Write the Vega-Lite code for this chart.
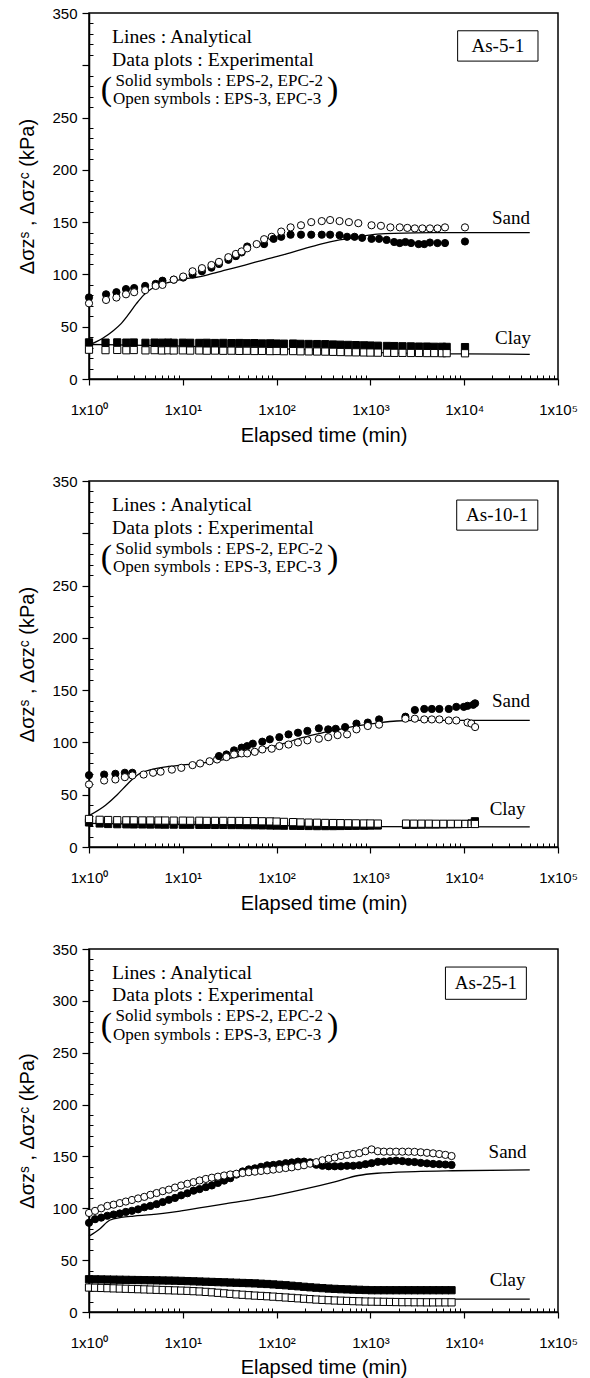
{
  "$schema": "https://vega.github.io/schema/vega-lite/v6.json",
  "background": "white",
  "padding": {"top": 5, "left": 17, "right": 5, "bottom": 0},
  "spacing": 27,
  "config": {
    "view": {"stroke": "black", "strokeWidth": 1.5},
    "axis": {
      "domainColor": "black", "domainWidth": 1.5, "tickColor": "black", "tickWidth": 1.2,
      "labelColor": "black", "titleColor": "black", "labelFont": "Liberation Sans", "titleFont": "Liberation Sans",
      "labelFontSize": 15, "titleFontSize": 20, "titleFontWeight": "normal", "grid": false
    },
    "text": {"font": "Liberation Serif", "color": "black"}
  },
  "datasets": {
    "curves": [
      {"panel": "As-5-1", "soil": "Sand", "time": 1, "stress": 32.5},
      {"panel": "As-5-1", "soil": "Sand", "time": 1.4, "stress": 39},
      {"panel": "As-5-1", "soil": "Sand", "time": 1.8, "stress": 46},
      {"panel": "As-5-1", "soil": "Sand", "time": 2.2, "stress": 53},
      {"panel": "As-5-1", "soil": "Sand", "time": 2.6, "stress": 61},
      {"panel": "As-5-1", "soil": "Sand", "time": 3.2, "stress": 72},
      {"panel": "As-5-1", "soil": "Sand", "time": 3.8, "stress": 80},
      {"panel": "As-5-1", "soil": "Sand", "time": 4.6, "stress": 86},
      {"panel": "As-5-1", "soil": "Sand", "time": 6, "stress": 90.5},
      {"panel": "As-5-1", "soil": "Sand", "time": 8, "stress": 93.5},
      {"panel": "As-5-1", "soil": "Sand", "time": 10, "stress": 95.5},
      {"panel": "As-5-1", "soil": "Sand", "time": 14, "stress": 97.3},
      {"panel": "As-5-1", "soil": "Sand", "time": 20, "stress": 100.5},
      {"panel": "As-5-1", "soil": "Sand", "time": 29, "stress": 104.3},
      {"panel": "As-5-1", "soil": "Sand", "time": 46, "stress": 109},
      {"panel": "As-5-1", "soil": "Sand", "time": 74, "stress": 114},
      {"panel": "As-5-1", "soil": "Sand", "time": 117, "stress": 118.7},
      {"panel": "As-5-1", "soil": "Sand", "time": 186, "stress": 124},
      {"panel": "As-5-1", "soil": "Sand", "time": 295, "stress": 129},
      {"panel": "As-5-1", "soil": "Sand", "time": 469, "stress": 133},
      {"panel": "As-5-1", "soil": "Sand", "time": 743, "stress": 136},
      {"panel": "As-5-1", "soil": "Sand", "time": 1180, "stress": 138.5},
      {"panel": "As-5-1", "soil": "Sand", "time": 3000, "stress": 139.8},
      {"panel": "As-5-1", "soil": "Sand", "time": 7500, "stress": 140},
      {"panel": "As-5-1", "soil": "Sand", "time": 50000, "stress": 140},
      {"panel": "As-5-1", "soil": "Clay", "time": 1, "stress": 33},
      {"panel": "As-5-1", "soil": "Clay", "time": 10, "stress": 31.5},
      {"panel": "As-5-1", "soil": "Clay", "time": 100, "stress": 29},
      {"panel": "As-5-1", "soil": "Clay", "time": 1000, "stress": 25.5},
      {"panel": "As-5-1", "soil": "Clay", "time": 10000, "stress": 24},
      {"panel": "As-5-1", "soil": "Clay", "time": 50000, "stress": 23.6},
      {"panel": "As-10-1", "soil": "Sand", "time": 1, "stress": 30},
      {"panel": "As-10-1", "soil": "Sand", "time": 1.5, "stress": 40},
      {"panel": "As-10-1", "soil": "Sand", "time": 2, "stress": 50},
      {"panel": "As-10-1", "soil": "Sand", "time": 2.5, "stress": 59},
      {"panel": "As-10-1", "soil": "Sand", "time": 3, "stress": 66},
      {"panel": "As-10-1", "soil": "Sand", "time": 3.5, "stress": 70.5},
      {"panel": "As-10-1", "soil": "Sand", "time": 4.6, "stress": 74},
      {"panel": "As-10-1", "soil": "Sand", "time": 7, "stress": 77},
      {"panel": "As-10-1", "soil": "Sand", "time": 10, "stress": 78.5},
      {"panel": "As-10-1", "soil": "Sand", "time": 15, "stress": 80},
      {"panel": "As-10-1", "soil": "Sand", "time": 20, "stress": 81.5},
      {"panel": "As-10-1", "soil": "Sand", "time": 29, "stress": 84},
      {"panel": "As-10-1", "soil": "Sand", "time": 46, "stress": 88},
      {"panel": "As-10-1", "soil": "Sand", "time": 74, "stress": 94},
      {"panel": "As-10-1", "soil": "Sand", "time": 120, "stress": 99},
      {"panel": "As-10-1", "soil": "Sand", "time": 186, "stress": 104.5},
      {"panel": "As-10-1", "soil": "Sand", "time": 300, "stress": 109},
      {"panel": "As-10-1", "soil": "Sand", "time": 469, "stress": 112.5},
      {"panel": "As-10-1", "soil": "Sand", "time": 750, "stress": 116},
      {"panel": "As-10-1", "soil": "Sand", "time": 1180, "stress": 118.5},
      {"panel": "As-10-1", "soil": "Sand", "time": 1900, "stress": 120.5},
      {"panel": "As-10-1", "soil": "Sand", "time": 3000, "stress": 121},
      {"panel": "As-10-1", "soil": "Sand", "time": 50000, "stress": 121},
      {"panel": "As-10-1", "soil": "Clay", "time": 1, "stress": 22.5},
      {"panel": "As-10-1", "soil": "Clay", "time": 10, "stress": 21.5},
      {"panel": "As-10-1", "soil": "Clay", "time": 100, "stress": 20.5},
      {"panel": "As-10-1", "soil": "Clay", "time": 1000, "stress": 19.5},
      {"panel": "As-10-1", "soil": "Clay", "time": 50000, "stress": 19.2},
      {"panel": "As-25-1", "soil": "Sand", "time": 1, "stress": 73},
      {"panel": "As-25-1", "soil": "Sand", "time": 1.3, "stress": 80},
      {"panel": "As-25-1", "soil": "Sand", "time": 1.66, "stress": 88.5},
      {"panel": "As-25-1", "soil": "Sand", "time": 2.2, "stress": 91.2},
      {"panel": "As-25-1", "soil": "Sand", "time": 3, "stress": 92.5},
      {"panel": "As-25-1", "soil": "Sand", "time": 4.6, "stress": 93.8},
      {"panel": "As-25-1", "soil": "Sand", "time": 9.6, "stress": 97.5},
      {"panel": "As-25-1", "soil": "Sand", "time": 18.4, "stress": 101.5},
      {"panel": "As-25-1", "soil": "Sand", "time": 29, "stress": 104.5},
      {"panel": "As-25-1", "soil": "Sand", "time": 74, "stress": 110.5},
      {"panel": "As-25-1", "soil": "Sand", "time": 186, "stress": 118},
      {"panel": "As-25-1", "soil": "Sand", "time": 427, "stress": 125.8},
      {"panel": "As-25-1", "soil": "Sand", "time": 743, "stress": 131.6},
      {"panel": "As-25-1", "soil": "Sand", "time": 1180, "stress": 133.8},
      {"panel": "As-25-1", "soil": "Sand", "time": 3000, "stress": 135.4},
      {"panel": "As-25-1", "soil": "Sand", "time": 7500, "stress": 136.2},
      {"panel": "As-25-1", "soil": "Sand", "time": 50000, "stress": 137},
      {"panel": "As-25-1", "soil": "Clay", "time": 1, "stress": 25},
      {"panel": "As-25-1", "soil": "Clay", "time": 3, "stress": 23.5},
      {"panel": "As-25-1", "soil": "Clay", "time": 11.6, "stress": 20.4},
      {"panel": "As-25-1", "soil": "Clay", "time": 30, "stress": 18.5},
      {"panel": "As-25-1", "soil": "Clay", "time": 74, "stress": 16.3},
      {"panel": "As-25-1", "soil": "Clay", "time": 200, "stress": 14.5},
      {"panel": "As-25-1", "soil": "Clay", "time": 469, "stress": 13.1},
      {"panel": "As-25-1", "soil": "Clay", "time": 1000, "stress": 12.6},
      {"panel": "As-25-1", "soil": "Clay", "time": 3000, "stress": 12.5},
      {"panel": "As-25-1", "soil": "Clay", "time": 50000, "stress": 12.5}
    ],
    "gauges": [
      {"panel": "As-5-1", "time": 1, "EPS-2": 78, "EPS-3": 72.4},
      {"panel": "As-5-1", "time": 1.52, "EPS-2": 81, "EPS-3": 75.6},
      {"panel": "As-5-1", "time": 1.96, "EPS-2": 83, "EPS-3": 77.9},
      {"panel": "As-5-1", "time": 2.48, "EPS-2": 86, "EPS-3": 81},
      {"panel": "As-5-1", "time": 3.03, "EPS-2": 87, "EPS-3": 83},
      {"panel": "As-5-1", "time": 3.97, "EPS-2": 89, "EPS-3": 85},
      {"panel": "As-5-1", "time": 5.14, "EPS-2": 91, "EPS-3": 89},
      {"panel": "As-5-1", "time": 6.07, "EPS-2": 94, "EPS-3": 90},
      {"panel": "As-5-1", "time": 8.01, "EPS-2": 95, "EPS-3": 95},
      {"panel": "As-5-1", "time": 10.1, "EPS-2": 97, "EPS-3": 98},
      {"panel": "As-5-1", "time": 12.7, "EPS-2": 100, "EPS-3": 103},
      {"panel": "As-5-1", "time": 16.0, "EPS-2": 103, "EPS-3": 106},
      {"panel": "As-5-1", "time": 20.2, "EPS-2": 106.5, "EPS-3": 109},
      {"panel": "As-5-1", "time": 24.3, "EPS-2": 110, "EPS-3": 112},
      {"panel": "As-5-1", "time": 30.6, "EPS-2": 114, "EPS-3": 116.5},
      {"panel": "As-5-1", "time": 36.8, "EPS-2": 117.5, "EPS-3": 119.6},
      {"panel": "As-5-1", "time": 42.4, "EPS-2": 121, "EPS-3": 122},
      {"panel": "As-5-1", "time": 48.6, "EPS-2": 126.7, "EPS-3": 125},
      {"panel": "As-5-1", "time": 61.3, "EPS-3": 129},
      {"panel": "As-5-1", "time": 73.6, "EPS-2": 129, "EPS-3": 133.7},
      {"panel": "As-5-1", "time": 88.7, "EPS-3": 136},
      {"panel": "As-5-1", "time": 92.9, "EPS-2": 134},
      {"panel": "As-5-1", "time": 112, "EPS-2": 136, "EPS-3": 141},
      {"panel": "As-5-1", "time": 141, "EPS-2": 138, "EPS-3": 145},
      {"panel": "As-5-1", "time": 182, "EPS-2": 138, "EPS-3": 147},
      {"panel": "As-5-1", "time": 234, "EPS-2": 138, "EPS-3": 150},
      {"panel": "As-5-1", "time": 303, "EPS-2": 138, "EPS-3": 151},
      {"panel": "As-5-1", "time": 372, "EPS-2": 138, "EPS-3": 152},
      {"panel": "As-5-1", "time": 469, "EPS-2": 137.5, "EPS-3": 151},
      {"panel": "As-5-1", "time": 564, "EPS-2": 136},
      {"panel": "As-5-1", "time": 590, "EPS-3": 150},
      {"panel": "As-5-1", "time": 678, "EPS-2": 136},
      {"panel": "As-5-1", "time": 743, "EPS-3": 149},
      {"panel": "As-5-1", "time": 816, "EPS-2": 135},
      {"panel": "As-5-1", "time": 1028, "EPS-2": 134, "EPS-3": 147},
      {"panel": "As-5-1", "time": 1237, "EPS-2": 134},
      {"panel": "As-5-1", "time": 1295, "EPS-3": 146.5},
      {"panel": "As-5-1", "time": 1489, "EPS-2": 133},
      {"panel": "As-5-1", "time": 1633, "EPS-3": 145},
      {"panel": "As-5-1", "time": 1791, "EPS-2": 131},
      {"panel": "As-5-1", "time": 2056, "EPS-2": 130, "EPS-3": 145},
      {"panel": "As-5-1", "time": 2362, "EPS-2": 131},
      {"panel": "As-5-1", "time": 2475, "EPS-3": 144.5},
      {"panel": "As-5-1", "time": 2715, "EPS-2": 130},
      {"panel": "As-5-1", "time": 2977, "EPS-3": 144},
      {"panel": "As-5-1", "time": 3266, "EPS-2": 129},
      {"panel": "As-5-1", "time": 3582, "EPS-3": 144},
      {"panel": "As-5-1", "time": 3752, "EPS-2": 129},
      {"panel": "As-5-1", "time": 4313, "EPS-2": 130.5, "EPS-3": 144},
      {"panel": "As-5-1", "time": 5189, "EPS-2": 130, "EPS-3": 144},
      {"panel": "As-5-1", "time": 6241, "EPS-2": 130, "EPS-3": 145},
      {"panel": "As-5-1", "time": 10190, "EPS-2": 131.5, "EPS-3": 145},
      {"panel": "As-5-1", "time": 1, "EPC-2": 35, "EPC-3": 28},
      {"panel": "As-5-1", "time": 1.5, "EPC-2": 34.8, "EPC-3": 27.6},
      {"panel": "As-5-1", "time": 2, "EPC-2": 35, "EPC-3": 27.8},
      {"panel": "As-5-1", "time": 2.5, "EPC-2": 34.8, "EPC-3": 27.5},
      {"panel": "As-5-1", "time": 3, "EPC-2": 34.9, "EPC-3": 27.7},
      {"panel": "As-5-1", "time": 4, "EPC-2": 34.6, "EPC-3": 27.4},
      {"panel": "As-5-1", "time": 5, "EPC-2": 34.8, "EPC-3": 27.6},
      {"panel": "As-5-1", "time": 6, "EPC-2": 34.7, "EPC-3": 27.3},
      {"panel": "As-5-1", "time": 7, "EPC-2": 34.8, "EPC-3": 27.5},
      {"panel": "As-5-1", "time": 8, "EPC-2": 34.6, "EPC-3": 27.3},
      {"panel": "As-5-1", "time": 10, "EPC-2": 34.7, "EPC-3": 27.4},
      {"panel": "As-5-1", "time": 12, "EPC-2": 34.6, "EPC-3": 27.2},
      {"panel": "As-5-1", "time": 15, "EPC-2": 34.5, "EPC-3": 27.3},
      {"panel": "As-5-1", "time": 18, "EPC-2": 34.6, "EPC-3": 27.1},
      {"panel": "As-5-1", "time": 22, "EPC-2": 34.4, "EPC-3": 27.2},
      {"panel": "As-5-1", "time": 27, "EPC-2": 34.5, "EPC-3": 27},
      {"panel": "As-5-1", "time": 33, "EPC-2": 34.3, "EPC-3": 27.1},
      {"panel": "As-5-1", "time": 40, "EPC-2": 34.4, "EPC-3": 26.9},
      {"panel": "As-5-1", "time": 48, "EPC-2": 34.2, "EPC-3": 27},
      {"panel": "As-5-1", "time": 58, "EPC-2": 34.3, "EPC-3": 26.8},
      {"panel": "As-5-1", "time": 70, "EPC-2": 34, "EPC-3": 26.9},
      {"panel": "As-5-1", "time": 85, "EPC-2": 34.1, "EPC-3": 26.7},
      {"panel": "As-5-1", "time": 100, "EPC-2": 33.9, "EPC-3": 26.8},
      {"panel": "As-5-1", "time": 120, "EPC-2": 33.8, "EPC-3": 26.6},
      {"panel": "As-5-1", "time": 150, "EPC-2": 33.9, "EPC-3": 26.7},
      {"panel": "As-5-1", "time": 180, "EPC-2": 33.6, "EPC-3": 26.5},
      {"panel": "As-5-1", "time": 220, "EPC-2": 33.5, "EPC-3": 26.4},
      {"panel": "As-5-1", "time": 270, "EPC-2": 33.4, "EPC-3": 26.3},
      {"panel": "As-5-1", "time": 330, "EPC-2": 33.3, "EPC-3": 26.2},
      {"panel": "As-5-1", "time": 400, "EPC-2": 33, "EPC-3": 26},
      {"panel": "As-5-1", "time": 480, "EPC-2": 32.8, "EPC-3": 25.8},
      {"panel": "As-5-1", "time": 580, "EPC-2": 32.6, "EPC-3": 25.6},
      {"panel": "As-5-1", "time": 700, "EPC-2": 32.4, "EPC-3": 25.5},
      {"panel": "As-5-1", "time": 850, "EPC-2": 32.2, "EPC-3": 25.4},
      {"panel": "As-5-1", "time": 1000, "EPC-2": 32, "EPC-3": 25.3},
      {"panel": "As-5-1", "time": 1200, "EPC-2": 31.8, "EPC-3": 25.2},
      {"panel": "As-5-1", "time": 1500, "EPC-2": 31.6, "EPC-3": 25.1},
      {"panel": "As-5-1", "time": 1800, "EPC-2": 31.5, "EPC-3": 25},
      {"panel": "As-5-1", "time": 2200, "EPC-2": 31.3, "EPC-3": 25},
      {"panel": "As-5-1", "time": 2700, "EPC-2": 31.2, "EPC-3": 24.9},
      {"panel": "As-5-1", "time": 3300, "EPC-2": 31, "EPC-3": 24.9},
      {"panel": "As-5-1", "time": 4000, "EPC-2": 31, "EPC-3": 24.8},
      {"panel": "As-5-1", "time": 4800, "EPC-2": 30.8, "EPC-3": 24.8},
      {"panel": "As-5-1", "time": 5800, "EPC-2": 30.8, "EPC-3": 24.7},
      {"panel": "As-5-1", "time": 6500, "EPC-2": 30.7, "EPC-3": 24.7},
      {"panel": "As-5-1", "time": 10200, "EPC-2": 30.5, "EPC-3": 24.6},
      {"panel": "As-10-1", "time": 1, "EPS-2": 68.7, "EPS-3": 59.8},
      {"panel": "As-10-1", "time": 1.45, "EPS-2": 69.3, "EPS-3": 63.6},
      {"panel": "As-10-1", "time": 1.91, "EPS-2": 70, "EPS-3": 64.6},
      {"panel": "As-10-1", "time": 2.41, "EPS-2": 71, "EPS-3": 66.8},
      {"panel": "As-10-1", "time": 2.9, "EPS-2": 71, "EPS-3": 68.4},
      {"panel": "As-10-1", "time": 3.82, "EPS-3": 69.3},
      {"panel": "As-10-1", "time": 4.82, "EPS-3": 71},
      {"panel": "As-10-1", "time": 5.8, "EPS-3": 72},
      {"panel": "As-10-1", "time": 7.65, "EPS-3": 74},
      {"panel": "As-10-1", "time": 9.64, "EPS-3": 75.7},
      {"panel": "As-10-1", "time": 12.7, "EPS-3": 78.3},
      {"panel": "As-10-1", "time": 15.3, "EPS-3": 79.9},
      {"panel": "As-10-1", "time": 19.3, "EPS-3": 82},
      {"panel": "As-10-1", "time": 23.2, "EPS-3": 83.7},
      {"panel": "As-10-1", "time": 24.3, "EPS-2": 87},
      {"panel": "As-10-1", "time": 29.2, "EPS-2": 88.5, "EPS-3": 86},
      {"panel": "As-10-1", "time": 35.2, "EPS-2": 92.4, "EPS-3": 88.5},
      {"panel": "As-10-1", "time": 42.4, "EPS-2": 95, "EPS-3": 89.5},
      {"panel": "As-10-1", "time": 48.6, "EPS-2": 96.5, "EPS-3": 89.5},
      {"panel": "As-10-1", "time": 55.8, "EPS-2": 98.8},
      {"panel": "As-10-1", "time": 58.5, "EPS-3": 91},
      {"panel": "As-10-1", "time": 70.4, "EPS-2": 100.7, "EPS-3": 93.3},
      {"panel": "As-10-1", "time": 84.7, "EPS-2": 103},
      {"panel": "As-10-1", "time": 88.7, "EPS-3": 94},
      {"panel": "As-10-1", "time": 107, "EPS-2": 105, "EPS-3": 96.5},
      {"panel": "As-10-1", "time": 134, "EPS-2": 107.7, "EPS-3": 98},
      {"panel": "As-10-1", "time": 169, "EPS-2": 109.3, "EPS-3": 100},
      {"panel": "As-10-1", "time": 213, "EPS-2": 111, "EPS-3": 102},
      {"panel": "As-10-1", "time": 282, "EPS-2": 113.5, "EPS-3": 103.5},
      {"panel": "As-10-1", "time": 355, "EPS-2": 112.5, "EPS-3": 105},
      {"panel": "As-10-1", "time": 427, "EPS-2": 113},
      {"panel": "As-10-1", "time": 447, "EPS-3": 107},
      {"panel": "As-10-1", "time": 538, "EPS-2": 114.7},
      {"panel": "As-10-1", "time": 564, "EPS-3": 107.7},
      {"panel": "As-10-1", "time": 710, "EPS-2": 118, "EPS-3": 112.5},
      {"panel": "As-10-1", "time": 938, "EPS-2": 119, "EPS-3": 115.7},
      {"panel": "As-10-1", "time": 1237, "EPS-2": 122, "EPS-3": 117},
      {"panel": "As-10-1", "time": 2362, "EPS-2": 124.6, "EPS-3": 122.7},
      {"panel": "As-10-1", "time": 2977, "EPS-2": 131, "EPS-3": 122.7},
      {"panel": "As-10-1", "time": 3752, "EPS-2": 132, "EPS-3": 122},
      {"panel": "As-10-1", "time": 4518, "EPS-2": 132, "EPS-3": 122},
      {"panel": "As-10-1", "time": 5435, "EPS-2": 132, "EPS-3": 122},
      {"panel": "As-10-1", "time": 6846, "EPS-2": 132, "EPS-3": 121},
      {"panel": "As-10-1", "time": 8236, "EPS-2": 134, "EPS-3": 121},
      {"panel": "As-10-1", "time": 9908, "EPS-2": 134},
      {"panel": "As-10-1", "time": 10860, "EPS-2": 135, "EPS-3": 119},
      {"panel": "As-10-1", "time": 11920, "EPS-3": 118},
      {"panel": "As-10-1", "time": 12480, "EPS-2": 136},
      {"panel": "As-10-1", "time": 13070, "EPS-2": 137.4, "EPS-3": 114.7},
      {"panel": "As-10-1", "time": 1, "EPC-2": 23.5, "EPC-3": 26.8},
      {"panel": "As-10-1", "time": 1.3, "EPC-2": 22.5, "EPC-3": 26},
      {"panel": "As-10-1", "time": 1.6, "EPC-2": 22, "EPC-3": 25.8},
      {"panel": "As-10-1", "time": 2, "EPC-2": 21.8, "EPC-3": 25.6},
      {"panel": "As-10-1", "time": 2.5, "EPC-2": 21.7, "EPC-3": 25.5},
      {"panel": "As-10-1", "time": 3, "EPC-2": 21.6, "EPC-3": 25.5},
      {"panel": "As-10-1", "time": 3.7, "EPC-2": 21.6, "EPC-3": 25.4},
      {"panel": "As-10-1", "time": 4.5, "EPC-2": 21.5, "EPC-3": 25.4},
      {"panel": "As-10-1", "time": 5.5, "EPC-2": 21.5, "EPC-3": 25.3},
      {"panel": "As-10-1", "time": 6.5, "EPC-2": 21.4, "EPC-3": 25.3},
      {"panel": "As-10-1", "time": 8, "EPC-2": 21.4, "EPC-3": 25.2},
      {"panel": "As-10-1", "time": 10, "EPC-2": 21.3, "EPC-3": 25.2},
      {"panel": "As-10-1", "time": 12, "EPC-2": 21.3, "EPC-3": 25.1},
      {"panel": "As-10-1", "time": 15, "EPC-2": 21.2, "EPC-3": 25.1},
      {"panel": "As-10-1", "time": 18, "EPC-2": 21.2, "EPC-3": 25},
      {"panel": "As-10-1", "time": 22, "EPC-2": 21.1, "EPC-3": 25},
      {"panel": "As-10-1", "time": 27, "EPC-2": 21.1, "EPC-3": 25},
      {"panel": "As-10-1", "time": 33, "EPC-2": 21, "EPC-3": 24.9},
      {"panel": "As-10-1", "time": 40, "EPC-2": 21, "EPC-3": 24.9},
      {"panel": "As-10-1", "time": 48, "EPC-2": 20.9, "EPC-3": 24.8},
      {"panel": "As-10-1", "time": 58, "EPC-2": 20.8, "EPC-3": 24.8},
      {"panel": "As-10-1", "time": 70, "EPC-2": 20.7, "EPC-3": 24.6},
      {"panel": "As-10-1", "time": 85, "EPC-2": 20.6, "EPC-3": 24.5},
      {"panel": "As-10-1", "time": 100, "EPC-2": 20.5, "EPC-3": 24.3},
      {"panel": "As-10-1", "time": 120, "EPC-2": 20.4, "EPC-3": 24},
      {"panel": "As-10-1", "time": 150, "EPC-2": 20.3, "EPC-3": 23.8},
      {"panel": "As-10-1", "time": 180, "EPC-2": 20.2, "EPC-3": 23.5},
      {"panel": "As-10-1", "time": 220, "EPC-2": 20.1, "EPC-3": 23.3},
      {"panel": "As-10-1", "time": 270, "EPC-2": 20, "EPC-3": 23.2},
      {"panel": "As-10-1", "time": 330, "EPC-2": 20, "EPC-3": 23},
      {"panel": "As-10-1", "time": 400, "EPC-2": 20, "EPC-3": 22.9},
      {"panel": "As-10-1", "time": 480, "EPC-2": 20.1, "EPC-3": 22.8},
      {"panel": "As-10-1", "time": 580, "EPC-2": 20.2, "EPC-3": 22.7},
      {"panel": "As-10-1", "time": 700, "EPC-2": 20.3, "EPC-3": 22.6},
      {"panel": "As-10-1", "time": 850, "EPC-2": 20.4, "EPC-3": 22.5},
      {"panel": "As-10-1", "time": 1000, "EPC-2": 20.5, "EPC-3": 22.5},
      {"panel": "As-10-1", "time": 1200, "EPC-2": 20.6, "EPC-3": 22.4},
      {"panel": "As-10-1", "time": 2400, "EPC-2": 21.2, "EPC-3": 22.4},
      {"panel": "As-10-1", "time": 2900, "EPC-2": 21.3, "EPC-3": 22.3},
      {"panel": "As-10-1", "time": 3500, "EPC-2": 21.4, "EPC-3": 22.3},
      {"panel": "As-10-1", "time": 4200, "EPC-2": 21.5, "EPC-3": 22.3},
      {"panel": "As-10-1", "time": 5000, "EPC-2": 21.5, "EPC-3": 22.2},
      {"panel": "As-10-1", "time": 6000, "EPC-2": 21.6, "EPC-3": 22.2},
      {"panel": "As-10-1", "time": 7200, "EPC-2": 21.7, "EPC-3": 22.2},
      {"panel": "As-10-1", "time": 8600, "EPC-2": 21.8, "EPC-3": 22.2},
      {"panel": "As-10-1", "time": 10300, "EPC-2": 22, "EPC-3": 22.1},
      {"panel": "As-10-1", "time": 12000, "EPC-2": 22.5, "EPC-3": 22.1},
      {"panel": "As-10-1", "time": 13000, "EPC-2": 24.6, "EPC-3": 22},
      {"panel": "As-25-1", "time": 1, "EPS-2": 86, "EPS-3": 95.5, "EPC-2": 31.6, "EPC-3": 23.6},
      {"panel": "As-25-1", "time": 1.16, "EPS-2": 89.5, "EPS-3": 97.5, "EPC-2": 31.5, "EPC-3": 23.4},
      {"panel": "As-25-1", "time": 1.35, "EPS-2": 91, "EPS-3": 100, "EPC-2": 31.4, "EPC-3": 23.2},
      {"panel": "As-25-1", "time": 1.57, "EPS-2": 92.8, "EPS-3": 102.3, "EPC-2": 31.3, "EPC-3": 23},
      {"panel": "As-25-1", "time": 1.83, "EPS-2": 94, "EPS-3": 103.5, "EPC-2": 31.2, "EPC-3": 22.8},
      {"panel": "As-25-1", "time": 2.13, "EPS-2": 95, "EPS-3": 105, "EPC-2": 31.1, "EPC-3": 22.6},
      {"panel": "As-25-1", "time": 2.47, "EPS-2": 96.5, "EPS-3": 106.5, "EPC-2": 31, "EPC-3": 22.4},
      {"panel": "As-25-1", "time": 2.87, "EPS-2": 97.6, "EPS-3": 108, "EPC-2": 30.9, "EPC-3": 22.2},
      {"panel": "As-25-1", "time": 3.34, "EPS-2": 99, "EPS-3": 109.5, "EPC-2": 30.8, "EPC-3": 22},
      {"panel": "As-25-1", "time": 3.89, "EPS-2": 101, "EPS-3": 111, "EPC-2": 30.7, "EPC-3": 21.8},
      {"panel": "As-25-1", "time": 4.52, "EPS-2": 102.3, "EPS-3": 113, "EPC-2": 30.6, "EPC-3": 21.6},
      {"panel": "As-25-1", "time": 5.26, "EPS-2": 104, "EPS-3": 114.7, "EPC-2": 30.5, "EPC-3": 21.4},
      {"panel": "As-25-1", "time": 6.11, "EPS-2": 106, "EPS-3": 116.5, "EPC-2": 30.4, "EPC-3": 21.2},
      {"panel": "As-25-1", "time": 7.11, "EPS-2": 108.2, "EPS-3": 118, "EPC-2": 30.3, "EPC-3": 21},
      {"panel": "As-25-1", "time": 8.26, "EPS-2": 110, "EPS-3": 120, "EPC-2": 30.2, "EPC-3": 20.8},
      {"panel": "As-25-1", "time": 9.61, "EPS-2": 112.5, "EPS-3": 122, "EPC-2": 30, "EPC-3": 20.6},
      {"panel": "As-25-1", "time": 11.2, "EPS-2": 114.5, "EPS-3": 123.6, "EPC-2": 29.8, "EPC-3": 20.4},
      {"panel": "As-25-1", "time": 13.0, "EPS-2": 117, "EPS-3": 125.2, "EPC-2": 29.6, "EPC-3": 20.1},
      {"panel": "As-25-1", "time": 15.1, "EPS-2": 118.5, "EPS-3": 126.8, "EPC-2": 29.4, "EPC-3": 19.8},
      {"panel": "As-25-1", "time": 17.6, "EPS-2": 120.4, "EPS-3": 128.3, "EPC-2": 29.2, "EPC-3": 19.4},
      {"panel": "As-25-1", "time": 20.4, "EPS-2": 122, "EPS-3": 129.5, "EPC-2": 29, "EPC-3": 19},
      {"panel": "As-25-1", "time": 23.7, "EPS-2": 124.5, "EPS-3": 130.5, "EPC-2": 28.8, "EPC-3": 18.5},
      {"panel": "As-25-1", "time": 27.6, "EPS-2": 126.7, "EPS-3": 131.6, "EPC-2": 28.6, "EPC-3": 18},
      {"panel": "As-25-1", "time": 32.1, "EPS-2": 129, "EPS-3": 132.6, "EPC-2": 28.4, "EPC-3": 17.5},
      {"panel": "As-25-1", "time": 37.3, "EPS-2": 132.5, "EPS-3": 133.3, "EPC-2": 28.2, "EPC-3": 17},
      {"panel": "As-25-1", "time": 43.4, "EPS-2": 135.5, "EPS-3": 134, "EPC-2": 28, "EPC-3": 16.6},
      {"panel": "As-25-1", "time": 50.5, "EPS-2": 137.5, "EPS-3": 134.8, "EPC-2": 27.8, "EPC-3": 16.2},
      {"panel": "As-25-1", "time": 58.7, "EPS-2": 138.5, "EPS-3": 135.3, "EPC-2": 27.6, "EPC-3": 15.8},
      {"panel": "As-25-1", "time": 68.2, "EPS-2": 140, "EPS-3": 136, "EPC-2": 27.3, "EPC-3": 15.5},
      {"panel": "As-25-1", "time": 79.3, "EPS-2": 141.4, "EPS-3": 136.6, "EPC-2": 27, "EPC-3": 15.2},
      {"panel": "As-25-1", "time": 92.2, "EPS-2": 141.8, "EPS-3": 137.3, "EPC-2": 26.6, "EPC-3": 14.8},
      {"panel": "As-25-1", "time": 107, "EPS-2": 142.5, "EPS-3": 138, "EPC-2": 26.2, "EPC-3": 14.4},
      {"panel": "As-25-1", "time": 125, "EPS-2": 143.5, "EPS-3": 138.8, "EPC-2": 25.8, "EPC-3": 14},
      {"panel": "As-25-1", "time": 145, "EPS-2": 144.2, "EPS-3": 139.5, "EPC-2": 25.3, "EPC-3": 13.6},
      {"panel": "As-25-1", "time": 169, "EPS-2": 145, "EPS-3": 140.5, "EPC-2": 24.8, "EPC-3": 13.2},
      {"panel": "As-25-1", "time": 196, "EPS-2": 145, "EPS-3": 141.5, "EPC-2": 24.3, "EPC-3": 12.8},
      {"panel": "As-25-1", "time": 228, "EPS-2": 144.3, "EPS-3": 143, "EPC-2": 23.8, "EPC-3": 12.4},
      {"panel": "As-25-1", "time": 265, "EPS-2": 142, "EPS-3": 144.5, "EPC-2": 23.4, "EPC-3": 12},
      {"panel": "As-25-1", "time": 308, "EPS-2": 141, "EPS-3": 146.3, "EPC-2": 23, "EPC-3": 11.7},
      {"panel": "As-25-1", "time": 359, "EPS-2": 140.5, "EPS-3": 147.7, "EPC-2": 22.6, "EPC-3": 11.4},
      {"panel": "As-25-1", "time": 417, "EPS-2": 140.5, "EPS-3": 149, "EPC-2": 22.3, "EPC-3": 11.1},
      {"panel": "As-25-1", "time": 485, "EPS-2": 140.5, "EPS-3": 150.5, "EPC-2": 22, "EPC-3": 10.9},
      {"panel": "As-25-1", "time": 564, "EPS-2": 141, "EPS-3": 151.5, "EPC-2": 21.8, "EPC-3": 10.7},
      {"panel": "As-25-1", "time": 656, "EPS-2": 141, "EPS-3": 152.3, "EPC-2": 21.6, "EPC-3": 10.5},
      {"panel": "As-25-1", "time": 762, "EPS-2": 141.5, "EPS-3": 153.2, "EPC-2": 21.4, "EPC-3": 10.3},
      {"panel": "As-25-1", "time": 887, "EPS-2": 142.5, "EPS-3": 155, "EPC-2": 21.2, "EPC-3": 10.1},
      {"panel": "As-25-1", "time": 1030, "EPS-2": 143.5, "EPS-3": 156.8, "EPC-2": 21, "EPC-3": 10},
      {"panel": "As-25-1", "time": 1200, "EPS-2": 144.8, "EPS-3": 155, "EPC-2": 21, "EPC-3": 9.9},
      {"panel": "As-25-1", "time": 1390, "EPS-2": 145, "EPS-3": 154.6, "EPC-2": 21, "EPC-3": 9.8},
      {"panel": "As-25-1", "time": 1620, "EPS-2": 145.5, "EPS-3": 154.6, "EPC-2": 21, "EPC-3": 9.7},
      {"panel": "As-25-1", "time": 1880, "EPS-2": 146, "EPS-3": 154.6, "EPC-2": 21, "EPC-3": 9.6},
      {"panel": "As-25-1", "time": 2190, "EPS-2": 145.5, "EPS-3": 154.6, "EPC-2": 21, "EPC-3": 9.5},
      {"panel": "As-25-1", "time": 2550, "EPS-2": 144.8, "EPS-3": 154.6, "EPC-2": 21, "EPC-3": 9.5},
      {"panel": "As-25-1", "time": 2960, "EPS-2": 144.6, "EPS-3": 154.4, "EPC-2": 21, "EPC-3": 9.4},
      {"panel": "As-25-1", "time": 3440, "EPS-2": 143.8, "EPS-3": 154, "EPC-2": 21, "EPC-3": 9.4},
      {"panel": "As-25-1", "time": 4010, "EPS-2": 143.3, "EPS-3": 153.5, "EPC-2": 21, "EPC-3": 9.3},
      {"panel": "As-25-1", "time": 4660, "EPS-2": 142.8, "EPS-3": 153, "EPC-2": 21, "EPC-3": 9.3},
      {"panel": "As-25-1", "time": 5420, "EPS-2": 142.5, "EPS-3": 152.3, "EPC-2": 21, "EPC-3": 9.3},
      {"panel": "As-25-1", "time": 6300, "EPS-2": 142.2, "EPS-3": 151.5, "EPC-2": 21, "EPC-3": 9.3},
      {"panel": "As-25-1", "time": 7330, "EPS-2": 141.8, "EPS-3": 150.4, "EPC-2": 21, "EPC-3": 9.3}
    ]
  },
  "vconcat": [
    {
      "width": 469, "height": 366,
      "resolve": {"axis": {"x": "independent", "y": "independent"}},
      "layer": [
        {
          "data": {"name": "curves"},
          "transform": [{"filter": "datum.panel == 'As-5-1'"}],
          "mark": {"type": "point", "opacity": 0},
          "encoding": {
            "x": {"field": "time", "type": "quantitative", "scale": {"type": "log", "domain": [1, 100000], "nice": false},
              "axis": {"orient": "bottom", "title": null, "labels": false, "domain": false, "tickSize": -4, "tickWidth": 1,
                "values": [2,3,4,5,6,7,8,9,20,30,40,50,60,70,80,90,200,300,400,500,600,700,800,900,2000,3000,4000,5000,6000,7000,8000,9000,20000,30000,40000,50000,60000,70000,80000,90000]}},
            "y": {"field": "stress", "type": "quantitative", "scale": {"domain": [0, 350], "nice": false},
              "axis": {"orient": "left", "title": null, "labels": false, "domain": false, "tickSize": -4, "tickWidth": 1,
                "values": [10,20,30,40,60,70,80,90,110,120,130,140,160,170,180,190,210,220,230,240,260,270,280,290,310,320,330,340]}}
          }
        },
        {
          "data": {"name": "curves"},
          "transform": [{"filter": "datum.panel == 'As-5-1'"}],
          "mark": {"type": "line", "color": "black", "strokeWidth": 1.3, "interpolate": "monotone"},
          "encoding": {
            "x": {"field": "time", "type": "quantitative", "scale": {"type": "log", "domain": [1, 100000], "nice": false},
              "axis": {"orient": "bottom", "title": "Elapsed time (min)", "values": [1, 10, 100, 1000, 10000, 100000],
                "labelExpr": "'1x10' + ['⁰','¹','²','³','⁴','⁵'][round(log(datum.value)/LN10)]",
                "labelFlush": false, "labelOverlap": false, "tickSize": 6, "labelPadding": 17, "titlePadding": 8}},
            "y": {"field": "stress", "type": "quantitative", "scale": {"domain": [0, 350], "nice": false},
              "axis": {"orient": "left", "title": "Δσzˢ , Δσzᶜ  (kPa)", "values": [0, 50, 100, 150, 200, 250, 300, 350],
                "labelExpr": "datum.value == 300 ? '' : datum.label", "tickSize": 7, "labelPadding": 5, "titlePadding": 14}},
            "detail": {"field": "soil"}
          }
        },
        {
          "data": {"name": "gauges"},
          "transform": [
            {"filter": "datum.panel == 'As-5-1'"},
            {"fold": ["EPS-2", "EPS-3", "EPC-2", "EPC-3"], "as": ["gauge", "stress"]},
            {"filter": "isValid(datum.stress)"}
          ],
          "mark": {"type": "point", "filled": true, "stroke": "black", "strokeWidth": 1, "opacity": 1, "size": 52},
          "encoding": {
            "x": {"field": "time", "type": "quantitative", "axis": null},
            "y": {"field": "stress", "type": "quantitative", "axis": null},
            "shape": {"field": "gauge", "type": "nominal", "legend": null, "scale": {"domain": ["EPS-2", "EPS-3", "EPC-2", "EPC-3"], "range": ["circle", "circle", "square", "square"]}},
            "fill": {"field": "gauge", "type": "nominal", "legend": null, "scale": {"domain": ["EPS-2", "EPS-3", "EPC-2", "EPC-3"], "range": ["black", "white", "black", "white"]}}
          }
        },
        {"data": {"values": [{}]}, "mark": {"type": "text", "text": "Sand", "fontSize": 19, "align": "center", "baseline": "middle"},
          "encoding": {"x": {"datum": 31500, "type": "quantitative", "axis": null}, "y": {"datum": 154, "type": "quantitative", "axis": null}}},
        {"data": {"values": [{}]}, "mark": {"type": "text", "text": "Clay", "fontSize": 19, "align": "center", "baseline": "middle"},
          "encoding": {"x": {"datum": 33100, "type": "quantitative", "axis": null}, "y": {"datum": 39, "type": "quantitative", "axis": null}}},
        {"data": {"values": [{}]}, "mark": {"type": "rect", "fill": "white", "stroke": "black", "strokeWidth": 1},
          "encoding": {"x": {"datum": 8510, "type": "quantitative", "axis": null}, "x2": {"datum": 61200},
            "y": {"datum": 333, "type": "quantitative", "axis": null}, "y2": {"datum": 304}}},
        {"data": {"values": [{}]}, "mark": {"type": "text", "text": "As-5-1", "fontSize": 19, "align": "center", "baseline": "middle"},
          "encoding": {"x": {"datum": 22830, "type": "quantitative", "axis": null}, "y": {"datum": 318.5, "type": "quantitative", "axis": null}}},
        {"data": {"values": [{}]}, "mark": {"type": "text", "text": "Lines : Analytical", "fontSize": 19.7, "align": "left", "baseline": "middle"},
          "encoding": {"x": {"datum": 1.76, "type": "quantitative", "axis": null}, "y": {"datum": 327, "type": "quantitative", "axis": null}}},
        {"data": {"values": [{}]}, "mark": {"type": "text", "text": "Data plots : Experimental", "fontSize": 19.7, "align": "left", "baseline": "middle"},
          "encoding": {"x": {"datum": 1.76, "type": "quantitative", "axis": null}, "y": {"datum": 305.5, "type": "quantitative", "axis": null}}},
        {"data": {"values": [{}]}, "mark": {"type": "text", "text": "Solid symbols : EPS-2, EPC-2", "fontSize": 17, "align": "left", "baseline": "middle"},
          "encoding": {"x": {"datum": 1.92, "type": "quantitative", "axis": null}, "y": {"datum": 285, "type": "quantitative", "axis": null}}},
        {"data": {"values": [{}]}, "mark": {"type": "text", "text": "Open symbols : EPS-3, EPC-3", "fontSize": 17, "align": "left", "baseline": "middle"},
          "encoding": {"x": {"datum": 1.8, "type": "quantitative", "axis": null}, "y": {"datum": 267.5, "type": "quantitative", "axis": null}}},
        {"data": {"values": [{}]}, "mark": {"type": "text", "text": "(", "fontSize": 34, "align": "right", "baseline": "middle"},
          "encoding": {"x": {"datum": 1.76, "type": "quantitative", "axis": null}, "y": {"datum": 276, "type": "quantitative", "axis": null}}},
        {"data": {"values": [{}]}, "mark": {"type": "text", "text": ")", "fontSize": 34, "align": "left", "baseline": "middle"},
          "encoding": {"x": {"datum": 344, "type": "quantitative", "axis": null}, "y": {"datum": 276, "type": "quantitative", "axis": null}}}
      ]
    },
    {
      "width": 469, "height": 366,
      "resolve": {"axis": {"x": "independent", "y": "independent"}},
      "layer": [
        {
          "data": {"name": "curves"},
          "transform": [{"filter": "datum.panel == 'As-10-1'"}],
          "mark": {"type": "point", "opacity": 0},
          "encoding": {
            "x": {"field": "time", "type": "quantitative", "scale": {"type": "log", "domain": [1, 100000], "nice": false},
              "axis": {"orient": "bottom", "title": null, "labels": false, "domain": false, "tickSize": -4, "tickWidth": 1,
                "values": [2,3,4,5,6,7,8,9,20,30,40,50,60,70,80,90,200,300,400,500,600,700,800,900,2000,3000,4000,5000,6000,7000,8000,9000,20000,30000,40000,50000,60000,70000,80000,90000]}},
            "y": {"field": "stress", "type": "quantitative", "scale": {"domain": [0, 350], "nice": false},
              "axis": {"orient": "left", "title": null, "labels": false, "domain": false, "tickSize": -4, "tickWidth": 1,
                "values": [10,20,30,40,60,70,80,90,110,120,130,140,160,170,180,190,210,220,230,240,260,270,280,290,310,320,330,340]}}
          }
        },
        {
          "data": {"name": "curves"},
          "transform": [{"filter": "datum.panel == 'As-10-1'"}],
          "mark": {"type": "line", "color": "black", "strokeWidth": 1.3, "interpolate": "monotone"},
          "encoding": {
            "x": {"field": "time", "type": "quantitative", "scale": {"type": "log", "domain": [1, 100000], "nice": false},
              "axis": {"orient": "bottom", "title": "Elapsed time (min)", "values": [1, 10, 100, 1000, 10000, 100000],
                "labelExpr": "'1x10' + ['⁰','¹','²','³','⁴','⁵'][round(log(datum.value)/LN10)]",
                "labelFlush": false, "labelOverlap": false, "tickSize": 6, "labelPadding": 17, "titlePadding": 8}},
            "y": {"field": "stress", "type": "quantitative", "scale": {"domain": [0, 350], "nice": false},
              "axis": {"orient": "left", "title": "Δσzˢ , Δσzᶜ  (kPa)", "values": [0, 50, 100, 150, 200, 250, 300, 350],
                "labelExpr": "datum.value == 300 ? '' : datum.label", "tickSize": 7, "labelPadding": 5, "titlePadding": 14}},
            "detail": {"field": "soil"}
          }
        },
        {
          "data": {"name": "gauges"},
          "transform": [
            {"filter": "datum.panel == 'As-10-1'"},
            {"fold": ["EPS-2", "EPS-3", "EPC-2", "EPC-3"], "as": ["gauge", "stress"]},
            {"filter": "isValid(datum.stress)"}
          ],
          "mark": {"type": "point", "filled": true, "stroke": "black", "strokeWidth": 1, "opacity": 1, "size": 52},
          "encoding": {
            "x": {"field": "time", "type": "quantitative", "axis": null},
            "y": {"field": "stress", "type": "quantitative", "axis": null},
            "shape": {"field": "gauge", "type": "nominal", "legend": null, "scale": {"domain": ["EPS-2", "EPS-3", "EPC-2", "EPC-3"], "range": ["circle", "circle", "square", "square"]}},
            "fill": {"field": "gauge", "type": "nominal", "legend": null, "scale": {"domain": ["EPS-2", "EPS-3", "EPC-2", "EPC-3"], "range": ["black", "white", "black", "white"]}}
          }
        },
        {"data": {"values": [{}]}, "mark": {"type": "text", "text": "Sand", "fontSize": 19, "align": "center", "baseline": "middle"},
          "encoding": {"x": {"datum": 31500, "type": "quantitative", "axis": null}, "y": {"datum": 140, "type": "quantitative", "axis": null}}},
        {"data": {"values": [{}]}, "mark": {"type": "text", "text": "Clay", "fontSize": 19, "align": "center", "baseline": "middle"},
          "encoding": {"x": {"datum": 29000, "type": "quantitative", "axis": null}, "y": {"datum": 36.4, "type": "quantitative", "axis": null}}},
        {"data": {"values": [{}]}, "mark": {"type": "rect", "fill": "white", "stroke": "black", "strokeWidth": 1},
          "encoding": {"x": {"datum": 8320, "type": "quantitative", "axis": null}, "x2": {"datum": 60900},
            "y": {"datum": 331.8, "type": "quantitative", "axis": null}, "y2": {"datum": 303}}},
        {"data": {"values": [{}]}, "mark": {"type": "text", "text": "As-10-1", "fontSize": 19, "align": "center", "baseline": "middle"},
          "encoding": {"x": {"datum": 22500, "type": "quantitative", "axis": null}, "y": {"datum": 317.5, "type": "quantitative", "axis": null}}},
        {"data": {"values": [{}]}, "mark": {"type": "text", "text": "Lines : Analytical", "fontSize": 19.7, "align": "left", "baseline": "middle"},
          "encoding": {"x": {"datum": 1.76, "type": "quantitative", "axis": null}, "y": {"datum": 327, "type": "quantitative", "axis": null}}},
        {"data": {"values": [{}]}, "mark": {"type": "text", "text": "Data plots : Experimental", "fontSize": 19.7, "align": "left", "baseline": "middle"},
          "encoding": {"x": {"datum": 1.76, "type": "quantitative", "axis": null}, "y": {"datum": 305.5, "type": "quantitative", "axis": null}}},
        {"data": {"values": [{}]}, "mark": {"type": "text", "text": "Solid symbols : EPS-2, EPC-2", "fontSize": 17, "align": "left", "baseline": "middle"},
          "encoding": {"x": {"datum": 1.92, "type": "quantitative", "axis": null}, "y": {"datum": 285, "type": "quantitative", "axis": null}}},
        {"data": {"values": [{}]}, "mark": {"type": "text", "text": "Open symbols : EPS-3, EPC-3", "fontSize": 17, "align": "left", "baseline": "middle"},
          "encoding": {"x": {"datum": 1.8, "type": "quantitative", "axis": null}, "y": {"datum": 267.5, "type": "quantitative", "axis": null}}},
        {"data": {"values": [{}]}, "mark": {"type": "text", "text": "(", "fontSize": 34, "align": "right", "baseline": "middle"},
          "encoding": {"x": {"datum": 1.76, "type": "quantitative", "axis": null}, "y": {"datum": 276, "type": "quantitative", "axis": null}}},
        {"data": {"values": [{}]}, "mark": {"type": "text", "text": ")", "fontSize": 34, "align": "left", "baseline": "middle"},
          "encoding": {"x": {"datum": 344, "type": "quantitative", "axis": null}, "y": {"datum": 276, "type": "quantitative", "axis": null}}}
      ]
    },
    {
      "width": 469, "height": 363,
      "resolve": {"axis": {"x": "independent", "y": "independent"}},
      "layer": [
        {
          "data": {"name": "curves"},
          "transform": [{"filter": "datum.panel == 'As-25-1'"}],
          "mark": {"type": "point", "opacity": 0},
          "encoding": {
            "x": {"field": "time", "type": "quantitative", "scale": {"type": "log", "domain": [1, 100000], "nice": false},
              "axis": {"orient": "bottom", "title": null, "labels": false, "domain": false, "tickSize": -4, "tickWidth": 1,
                "values": [2,3,4,5,6,7,8,9,20,30,40,50,60,70,80,90,200,300,400,500,600,700,800,900,2000,3000,4000,5000,6000,7000,8000,9000,20000,30000,40000,50000,60000,70000,80000,90000]}},
            "y": {"field": "stress", "type": "quantitative", "scale": {"domain": [0, 350], "nice": false},
              "axis": {"orient": "left", "title": null, "labels": false, "domain": false, "tickSize": -4, "tickWidth": 1,
                "values": [10,20,30,40,60,70,80,90,110,120,130,140,160,170,180,190,210,220,230,240,260,270,280,290,310,320,330,340]}}
          }
        },
        {
          "data": {"name": "curves"},
          "transform": [{"filter": "datum.panel == 'As-25-1'"}],
          "mark": {"type": "line", "color": "black", "strokeWidth": 1.3, "interpolate": "monotone"},
          "encoding": {
            "x": {"field": "time", "type": "quantitative", "scale": {"type": "log", "domain": [1, 100000], "nice": false},
              "axis": {"orient": "bottom", "title": "Elapsed time (min)", "values": [1, 10, 100, 1000, 10000, 100000],
                "labelExpr": "'1x10' + ['⁰','¹','²','³','⁴','⁵'][round(log(datum.value)/LN10)]",
                "labelFlush": false, "labelOverlap": false, "tickSize": 6, "labelPadding": 17, "titlePadding": 7}},
            "y": {"field": "stress", "type": "quantitative", "scale": {"domain": [0, 350], "nice": false},
              "axis": {"orient": "left", "title": "Δσzˢ , Δσzᶜ  (kPa)", "values": [0, 50, 100, 150, 200, 250, 300, 350],
                "tickSize": 7, "labelPadding": 5, "titlePadding": 14}},
            "detail": {"field": "soil"}
          }
        },
        {
          "data": {"name": "gauges"},
          "transform": [
            {"filter": "datum.panel == 'As-25-1'"},
            {"fold": ["EPS-2", "EPS-3", "EPC-2", "EPC-3"], "as": ["gauge", "stress"]},
            {"filter": "isValid(datum.stress)"}
          ],
          "mark": {"type": "point", "filled": true, "stroke": "black", "strokeWidth": 1, "opacity": 1, "size": 52},
          "encoding": {
            "x": {"field": "time", "type": "quantitative", "axis": null},
            "y": {"field": "stress", "type": "quantitative", "axis": null},
            "shape": {"field": "gauge", "type": "nominal", "legend": null, "scale": {"domain": ["EPS-2", "EPS-3", "EPC-2", "EPC-3"], "range": ["circle", "circle", "square", "square"]}},
            "fill": {"field": "gauge", "type": "nominal", "legend": null, "scale": {"domain": ["EPS-2", "EPS-3", "EPC-2", "EPC-3"], "range": ["black", "white", "black", "white"]}}
          }
        },
        {"data": {"values": [{}]}, "mark": {"type": "text", "text": "Sand", "fontSize": 19, "align": "center", "baseline": "middle"},
          "encoding": {"x": {"datum": 29000, "type": "quantitative", "axis": null}, "y": {"datum": 154, "type": "quantitative", "axis": null}}},
        {"data": {"values": [{}]}, "mark": {"type": "text", "text": "Clay", "fontSize": 19, "align": "center", "baseline": "middle"},
          "encoding": {"x": {"datum": 29000, "type": "quantitative", "axis": null}, "y": {"datum": 31, "type": "quantitative", "axis": null}}},
        {"data": {"values": [{}]}, "mark": {"type": "rect", "fill": "white", "stroke": "black", "strokeWidth": 1},
          "encoding": {"x": {"datum": 6310, "type": "quantitative", "axis": null}, "x2": {"datum": 46000},
            "y": {"datum": 332.6, "type": "quantitative", "axis": null}, "y2": {"datum": 301.5}}},
        {"data": {"values": [{}]}, "mark": {"type": "text", "text": "As-25-1", "fontSize": 19, "align": "center", "baseline": "middle"},
          "encoding": {"x": {"datum": 17040, "type": "quantitative", "axis": null}, "y": {"datum": 317, "type": "quantitative", "axis": null}}},
        {"data": {"values": [{}]}, "mark": {"type": "text", "text": "Lines : Analytical", "fontSize": 19.7, "align": "left", "baseline": "middle"},
          "encoding": {"x": {"datum": 1.76, "type": "quantitative", "axis": null}, "y": {"datum": 327, "type": "quantitative", "axis": null}}},
        {"data": {"values": [{}]}, "mark": {"type": "text", "text": "Data plots : Experimental", "fontSize": 19.7, "align": "left", "baseline": "middle"},
          "encoding": {"x": {"datum": 1.76, "type": "quantitative", "axis": null}, "y": {"datum": 305.5, "type": "quantitative", "axis": null}}},
        {"data": {"values": [{}]}, "mark": {"type": "text", "text": "Solid symbols : EPS-2, EPC-2", "fontSize": 17, "align": "left", "baseline": "middle"},
          "encoding": {"x": {"datum": 1.92, "type": "quantitative", "axis": null}, "y": {"datum": 285, "type": "quantitative", "axis": null}}},
        {"data": {"values": [{}]}, "mark": {"type": "text", "text": "Open symbols : EPS-3, EPC-3", "fontSize": 17, "align": "left", "baseline": "middle"},
          "encoding": {"x": {"datum": 1.8, "type": "quantitative", "axis": null}, "y": {"datum": 267.5, "type": "quantitative", "axis": null}}},
        {"data": {"values": [{}]}, "mark": {"type": "text", "text": "(", "fontSize": 34, "align": "right", "baseline": "middle"},
          "encoding": {"x": {"datum": 1.76, "type": "quantitative", "axis": null}, "y": {"datum": 276, "type": "quantitative", "axis": null}}},
        {"data": {"values": [{}]}, "mark": {"type": "text", "text": ")", "fontSize": 34, "align": "left", "baseline": "middle"},
          "encoding": {"x": {"datum": 344, "type": "quantitative", "axis": null}, "y": {"datum": 276, "type": "quantitative", "axis": null}}}
      ]
    }
  ]
}
